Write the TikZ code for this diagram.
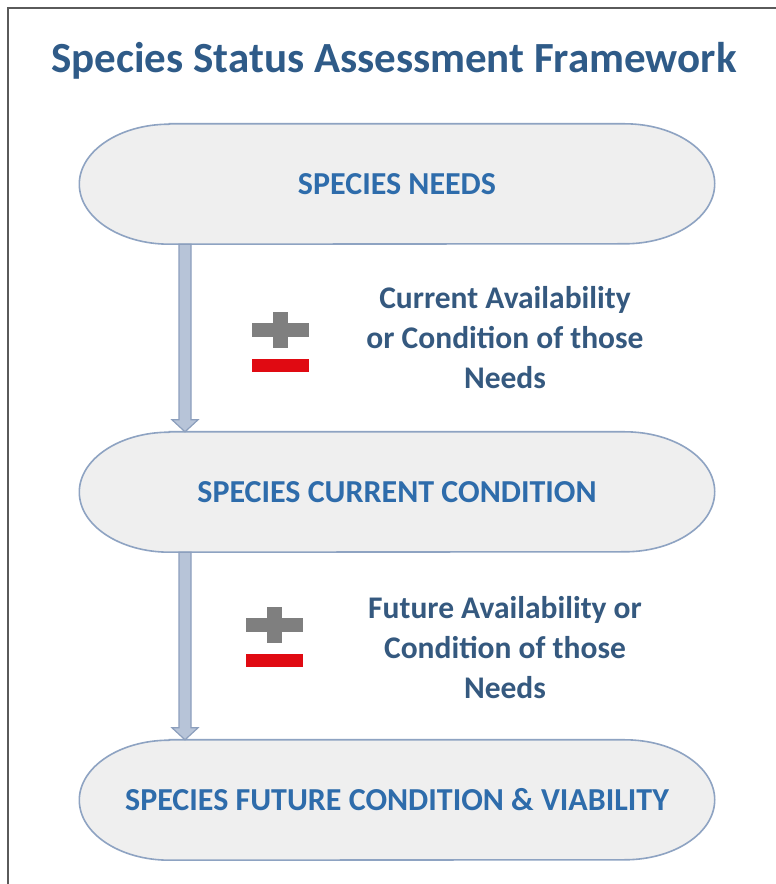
\documentclass[tikz,border=0pt]{standalone}
\usepackage{fontspec}
\setmainfont{Carlito}
\usetikzlibrary{calc}
\definecolor{titleblue}{HTML}{2F5B88}
\definecolor{labelblue}{HTML}{35597F}
\definecolor{stageblue}{HTML}{2E6CAB}
\definecolor{stagefill}{HTML}{EFEFEF}
\definecolor{stageline}{HTML}{8EA3C2}
\definecolor{shaftfill}{HTML}{B7C4D8}
\definecolor{shaftline}{HTML}{8C9FBD}
\definecolor{plusgray}{HTML}{7F7F7F}
\definecolor{minusred}{HTML}{E00A12}
\definecolor{framegray}{HTML}{5A5A5A}
\tikzset{
  stagebox/.style={minimum width=635pt, minimum height=120pt, inner sep=0pt,
    text=stageblue, font=\bfseries\fontsize{32}{38}\selectfont},
  stageshape/.style={fill=stagefill, draw=stageline, line width=1.6pt},
  notelabel/.style={text=labelblue, align=center,
    font=\bfseries\fontsize{31.5}{40}\selectfont},
  shaft/.style={fill=shaftfill, draw=shaftline, line width=1.2pt, line join=miter},
}
% stadium outline with elliptical ends around a named node
\newcommand{\stadium}[1]{%
  \draw[stageshape] ($(#1.north west)+(90pt,0)$) -- ($(#1.north east)+(-90pt,0)$)
    arc[start angle=90, end angle=-90, x radius=90pt, y radius=60pt]
    -- ($(#1.south west)+(90pt,0)$)
    arc[start angle=270, end angle=90, x radius=90pt, y radius=60pt] -- cycle;}
% downward block arrow between two named points
\newcommand{\blockarrow}[2]{%
  \filldraw[shaft] ($(#1)+(-6pt,0)$) -- ($(#2)+(-6pt,12pt)$) -- ($(#2)+(-13pt,12pt)$)
    -- (#2) -- ($(#2)+(13pt,12pt)$) -- ($(#2)+(6pt,12pt)$) -- ($(#1)+(6pt,0)$) -- cycle;}
% plus over minus sign, centred on a point
\newcommand{\plusminus}[1]{%
  \fill[plusgray] ($(#1)+(-28.5pt,-7pt)$) rectangle ($(#1)+(28.5pt,7pt)$);
  \fill[plusgray] ($(#1)+(-7.5pt,-18pt)$) rectangle ($(#1)+(7.5pt,18pt)$);
  \fill[minusred] ($(#1)+(-28.5pt,-42.5pt)$) rectangle ($(#1)+(28.5pt,-29.5pt)$);}
\begin{document}
\begin{tikzpicture}[x=1pt, y=1pt]
  \useasboundingbox (0,0) rectangle (776,884);
  \fill[white] (0,0) rectangle (776,884);
  \draw[framegray, line width=2pt] (8,-2) -- (8,876) -- (778,876);

  \node[text=titleblue, font=\bfseries\fontsize{43}{50}\selectfont] (title) at (394,823)
    {Species Status Assessment Framework};

  \node[stagebox] (needs) at (397,700) {};
  \node[stagebox] (current) at (397,392) {};
  \node[stagebox] (future) at (397,84) {};
  \stadium{needs}
  \stadium{current}
  \stadium{future}
  \node[stagebox] at (needs.center) {SPECIES NEEDS};
  \node[stagebox] at (current.center) {SPECIES CURRENT CONDITION};
  \node[stagebox] at (future.center) {SPECIES FUTURE CONDITION \& VIABILITY};

  \coordinate (ax) at (185,0);
  \coordinate (a1s) at (needs.south -| ax);
  \coordinate (a1e) at (current.north -| ax);
  \coordinate (a2s) at (current.south -| ax);
  \coordinate (a2e) at (future.north -| ax);
  \blockarrow{a1s}{a1e}
  \blockarrow{a2s}{a2e}

  \coordinate (pm1) at (280,554);
  \coordinate (pm2) at (274,259);
  \plusminus{pm1}
  \plusminus{pm2}

  \node[notelabel] (currentnote) at (505,546)
    {Current Availability\\or Condition of those\\Needs};
  \node[notelabel] (futurenote) at (505,236)
    {Future Availability or\\Condition of those\\Needs};
\end{tikzpicture}
\end{document}
